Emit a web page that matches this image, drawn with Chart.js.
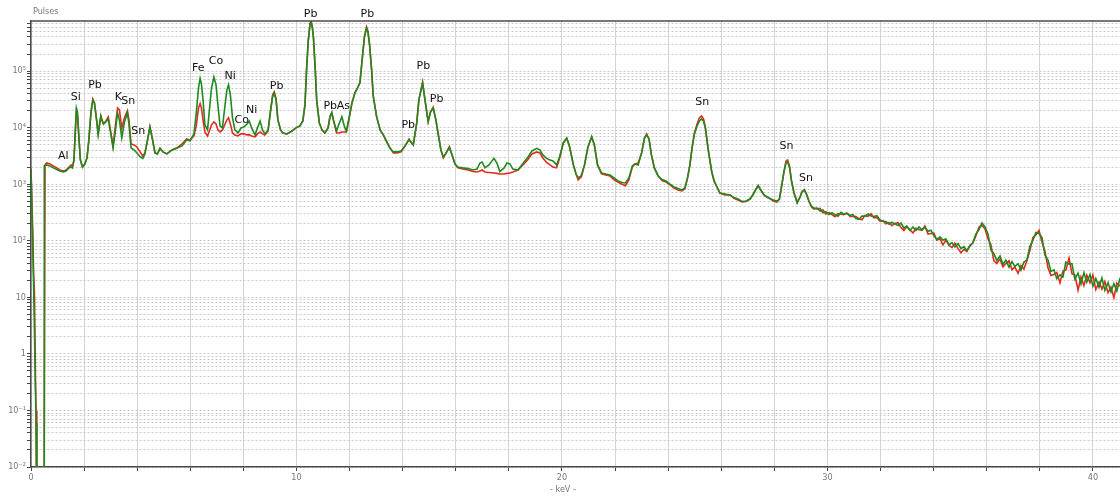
<!DOCTYPE html>
<html>
<head>
<meta charset="utf-8">
<script src="https://cdn.jsdelivr.net/npm/chart.js@4.4.0/dist/chart.umd.min.js"></script>
<style>
  html, body { margin: 0; padding: 0; background: #fff; }
</style>
</head>
<body>
<canvas id="spectrum" width="1120" height="497"></canvas>
<script>
// energy axis (keV), shared by both spectra
var keV = [
  0.00, 0.07, 0.10, 0.13, 0.17, 0.19, 0.22, 0.49, 0.50, 0.53,
  0.59, 0.72, 0.84, 0.97, 1.09, 1.22, 1.32, 1.43, 1.51, 1.56,
  1.62, 1.66, 1.71, 1.75, 1.81, 1.86, 1.94, 2.03, 2.11, 2.18,
  2.26, 2.33, 2.39, 2.47, 2.53, 2.63, 2.67, 2.73, 2.82, 2.91,
  2.99, 3.09, 3.16, 3.26, 3.33, 3.42, 3.52, 3.63, 3.69, 3.77,
  3.88, 3.99, 4.11, 4.21, 4.29, 4.39, 4.48, 4.58, 4.67, 4.76,
  4.86, 4.97, 5.12, 5.31, 5.50, 5.69, 5.86, 5.99, 6.14, 6.23,
  6.31, 6.37, 6.42, 6.48, 6.55, 6.65, 6.72, 6.80, 6.89, 6.97,
  7.04, 7.12, 7.21, 7.31, 7.38, 7.44, 7.51, 7.59, 7.68, 7.80,
  7.91, 8.02, 8.14, 8.22, 8.31, 8.44, 8.53, 8.63, 8.72, 8.81,
  8.93, 9.02, 9.10, 9.16, 9.23, 9.30, 9.40, 9.49, 9.64, 9.83,
  9.98, 10.13, 10.24, 10.32, 10.38, 10.44, 10.51, 10.55, 10.60, 10.64,
  10.70, 10.76, 10.86, 10.96, 11.07, 11.19, 11.26, 11.33, 11.39, 11.51,
  11.60, 11.71, 11.81, 11.88, 11.98, 12.09, 12.20, 12.30, 12.39, 12.48,
  12.56, 12.64, 12.69, 12.75, 12.83, 12.89, 13.02, 13.15, 13.27, 13.40,
  13.52, 13.65, 13.79, 13.94, 14.09, 14.24, 14.31, 14.40, 14.53, 14.61,
  14.75, 14.84, 14.96, 15.05, 15.15, 15.25, 15.35, 15.44, 15.53, 15.66,
  15.76, 15.86, 15.97, 16.08, 16.27, 16.46, 16.65, 16.80, 16.91, 16.99,
  17.10, 17.25, 17.44, 17.55, 17.66, 17.82, 17.93, 18.04, 18.15, 18.34,
  18.53, 18.72, 18.87, 19.05, 19.17, 19.28, 19.42, 19.55, 19.66, 19.80,
  19.92, 20.05, 20.18, 20.28, 20.43, 20.53, 20.61, 20.73, 20.85, 20.98,
  21.12, 21.22, 21.34, 21.49, 21.65, 21.81, 21.96, 22.11, 22.26, 22.39,
  22.52, 22.65, 22.75, 22.87, 23.00, 23.11, 23.19, 23.28, 23.37, 23.48,
  23.62, 23.77, 23.92, 24.07, 24.22, 24.37, 24.52, 24.63, 24.73, 24.82,
  24.90, 24.99, 25.09, 25.18, 25.26, 25.33, 25.40, 25.51, 25.64, 25.73,
  25.83, 25.95, 26.14, 26.33, 26.48, 26.63, 26.78, 26.93, 27.08, 27.19,
  27.29, 27.39, 27.49, 27.61, 27.72, 27.83, 27.96, 28.10, 28.19, 28.27,
  28.36, 28.44, 28.50, 28.57, 28.64, 28.74, 28.86, 28.97, 29.04, 29.13,
  29.21, 29.30, 29.40, 29.49,
  29.60, 29.72, 29.83, 29.94, 30.06, 30.17, 30.28, 30.40, 30.51, 30.62,
  30.73, 30.85, 30.96, 31.07, 31.19, 31.30, 31.41, 31.53, 31.64, 31.75,
  31.86, 31.98, 32.09, 32.20, 32.32, 32.43, 32.54, 32.66, 32.77, 32.88,
  32.99, 33.11, 33.22, 33.33, 33.45, 33.56, 33.67, 33.79, 33.90, 34.01,
  34.12, 34.24, 34.35, 34.46, 34.58, 34.69, 34.80, 34.92, 35.03, 35.14,
  35.25, 35.37, 35.48, 35.59, 35.71, 35.82, 35.93, 36.05, 36.16, 36.27,
  36.38, 36.50, 36.61, 36.72, 36.84, 36.95, 37.06, 37.18, 37.29, 37.40,
  37.51, 37.63, 37.74, 37.85, 37.97, 38.08, 38.19, 38.31, 38.42, 38.53,
  38.64, 38.76, 38.87, 38.98, 39.10, 39.21, 39.32, 39.44, 39.55, 39.66,
  39.77, 39.89, 40.00, 40.11, 40.23, 40.34, 40.45, 40.57, 40.68, 40.79,
  40.90, 41.02
];

// pulses, green spectrum (drawn on top)
var pulsesGreen = [
  1800, 68, 15, 2.6, 0.2, 0.06, 0.001, 0.001, 2100, 2150,
  2190, 2100, 1940, 1820, 1710, 1640, 1710, 1940, 2010, 1940,
  2680, 7430, 22300, 19000, 6060, 2680, 2010, 2280, 2910, 6060,
  19000, 30900, 27300, 13700, 7430, 16000, 13700, 11600, 12600, 14300,
  8700, 4370, 7430, 18200, 13700, 6570, 12600, 18200, 11600, 4370,
  4030, 3570, 3060, 2850, 3430, 6060, 10300, 6060, 3570, 3430,
  4300, 3720, 3430, 4030, 4370, 4750, 6060, 5820, 7740, 19000,
  50400, 74000, 59200, 30900, 11200, 9100, 20600, 50400, 78000, 57000,
  25200, 10700, 9890, 25200, 46500, 57000, 37900, 14900, 9100, 8050,
  9890, 10300, 11600, 13100, 9890, 7430, 9890, 13100, 9100, 7740,
  9100, 19000, 34900, 40300, 30900, 13700, 9100, 8050, 7740, 8700,
  9890, 10700, 13100, 25200, 105000, 329000, 670000, 743000, 581000, 385000,
  123000, 30900, 12100, 9100, 8050, 9890, 15500, 18200, 13700, 8700,
  11600, 15500, 10300, 8700, 14900, 27300, 41100, 50400, 61800, 170000,
  403000, 570000, 493000, 305000, 105000, 36300, 15500, 9100, 7430, 5580,
  4370, 3720, 3720, 3870, 4750, 6060, 5580, 4940, 12100, 30900,
  60800, 30900, 12800, 19000, 22000, 13700, 7130, 4030, 3030, 3720,
  4460, 3290, 2280, 2010, 1940, 1890, 1780, 1850, 2370, 2470,
  1940, 2190, 2860, 2370, 1670, 1940, 2370, 2280, 1850, 1780,
  2330, 3030, 3870, 4300, 4030, 3290, 2860, 2680, 2570, 2190,
  3150, 5360, 6570, 4750, 2190, 1510, 1290, 1420, 2190, 4550,
  6960, 4940, 2190, 1580, 1510, 1450, 1290, 1140, 1070, 1050,
  1290, 2100, 2280, 2190, 3570, 6570, 7430, 6300, 3290, 1940,
  1400, 1210, 1140, 1000, 892, 840, 789, 857, 1290, 2190,
  4370, 7740, 10700, 13100, 14300, 13100, 9890, 4030, 1670, 1140,
  910, 698, 670, 644, 580, 545, 494, 504, 545, 644,
  789, 930, 789, 644, 593, 560, 525, 504, 545, 892,
  1640, 2370, 2470, 2010, 1190, 698, 465, 593, 728, 789,
  670, 504, 410, 379,
  364, 372, 313, 326, 291, 313, 288, 272, 318, 296,
  305, 281, 290, 246, 239, 273, 272, 297, 273, 268,
  278, 232, 221, 218, 196, 212, 199, 186, 206, 168,
  182, 152, 175, 151, 175, 156, 173, 147, 154, 122,
  106, 117, 102, 108, 84.6, 92.5, 77.3, 89, 72.5, 78.5,
  67, 80.6, 93, 131, 158, 206, 178, 131, 68.4, 58.8,
  44.6, 53.6, 38.2, 45.5, 34.2, 42.8, 35, 39.2, 30.3, 42,
  45.5, 80.6, 101, 140, 134, 114, 55.8, 45.5, 28.5, 30.8,
  21.4, 25, 22.8, 42, 38.7, 39.5, 21, 26.8, 17.1, 27.3,
  18.6, 25.2, 15.8, 21.4, 15.1, 21.9, 13.2, 18.2, 12.4, 17.5,
  12.9, 21.9
];

// pulses, red spectrum (drawn underneath)
var pulsesRed = [
  1900, 120, 25, 12, 0.3, 0.1, 0.001, 0.001, 0.001, 2200,
  2370, 2280, 2100, 1940, 1780, 1710, 1780, 2010, 2190, 2010,
  2680, 7000, 19000, 16800, 6060, 2680, 2010, 2280, 2910, 6060,
  19000, 32000, 27300, 13700, 8050, 16000, 13700, 11600, 13100, 15500,
  9100, 4750, 9100, 22300, 20600, 9890, 14900, 19800, 13700, 5150,
  4940, 4550, 3720, 3150, 3570, 6060, 10300, 6060, 3570, 3430,
  4300, 3720, 3430, 4030, 4370, 5150, 6300, 6060, 7130, 11200,
  22300, 26700, 22300, 13700, 8390, 7130, 8700, 11200, 12600, 11600,
  9100, 8390, 9100, 11600, 13700, 14900, 11600, 8050, 7430, 7130,
  7740, 7740, 7430, 7430, 7130, 6840, 7740, 8390, 7740, 7430,
  8700, 19800, 37900, 42700, 32900, 13700, 9100, 8050, 7740, 8700,
  9890, 10700, 13100, 25200, 105000, 335000, 680000, 770000, 590000, 385000,
  123000, 30900, 12100, 9100, 8050, 9890, 15500, 18500, 13700, 8050,
  8050, 8390, 8390, 8390, 14300, 27300, 41100, 50400, 61800, 170000,
  410000, 600000, 510000, 305000, 105000, 36300, 15500, 9100, 7430, 5580,
  4370, 3570, 3570, 3720, 4750, 6300, 5580, 4940, 12100, 30900,
  64000, 30900, 12800, 19000, 23000, 13700, 7130, 4030, 2900, 3720,
  4600, 3290, 2280, 1940, 1850, 1780, 1670, 1640, 1710, 1780,
  1640, 1610, 1580, 1550, 1510, 1510, 1550, 1580, 1640, 1780,
  2190, 2730, 3430, 3720, 3570, 2910, 2420, 2190, 2010, 1940,
  3000, 5360, 6400, 4750, 2190, 1510, 1190, 1350, 2190, 4550,
  6800, 4940, 2190, 1520, 1450, 1400, 1190, 1090, 1000, 940,
  1190, 2010, 2280, 2370, 3570, 6570, 7700, 6300, 3290, 1940,
  1400, 1160, 1090, 968, 857, 789, 760, 830, 1290, 2190,
  4370, 8050, 11600, 14900, 16100, 14300, 10300, 4030, 1670, 1140,
  910, 698, 644, 644, 560, 525, 484, 494, 545, 644,
  789, 950, 789, 644, 593, 560, 504, 484, 545, 892,
  1640, 2570, 2680, 2100, 1190, 698, 484, 593, 728, 800,
  670, 504, 395, 364,
  379, 335, 349, 297, 315, 290, 266, 302, 294, 288,
  310, 269, 270, 267, 244, 235, 278, 270, 300, 254,
  259, 223, 227, 200, 210, 184, 202, 208, 171, 152,
  178, 156, 137, 166, 156, 153, 183, 131, 134, 136,
  102, 108, 84.6, 102, 83, 75.5, 91, 72.5, 61.5, 70.7,
  64.4, 84, 91, 121, 175, 186, 164, 107, 84, 44.2,
  39.5, 47.4, 34.5, 39.5, 44.6, 31, 34.2, 26.6, 36.4, 31.5,
  43.7, 68.4, 114, 126, 152, 94.8, 65.7, 32.9, 24.2, 25.2,
  27.3, 18, 29.1, 30.3, 49.4, 26.2, 24.7, 13.4, 22.8, 16.1,
  24.7, 18.2, 24.7, 13.7, 18.6, 14, 19, 12.1, 15.1, 9.9,
  17.8, 15.8
];

// element labels over the peaks
var peakNames = ["Al", "Si", "Pb", "K", "Sn", "Sn", "Fe", "Co", "Ni", "Co", "Ni",
  "Pb", "Pb", "Pb", "As", "Pb", "Pb", "Pb", "Pb", "Sn", "Sn", "Sn"];
var peakKeV = [1.22, 1.69, 2.41, 3.29, 3.66, 4.04, 6.30, 6.97, 7.50, 7.94, 8.31,
  9.25, 10.53, 11.27, 11.77, 12.67, 14.21, 14.78, 15.28, 25.28, 28.46, 29.19];
var peakPulses = [3070, 34500, 57000, 34500, 28800, 8490, 112000, 147000, 82200, 13300, 20600,
  54700, 1.03e6, 24200, 24200, 1.03e6, 11200, 120000, 32200, 27700, 4610, 1270];

// axis ticks
var xTicks = [0, 2, 4, 6, 8, 10, 12, 14, 16, 18, 20, 22, 24, 26, 28, 30, 32, 34, 36, 38, 40];
var xLabelled = [0, 10, 20, 30, 40];
var yLabels = ["10\u207B\u00B2", "10\u207B\u00B9", "1", "10", "10\u00B2", "10\u00B3", "10\u2074", "10\u2075"];
var yMin = 0.01, yMax = 767000;

var yTicks = [];
for (var e = -2; e <= 5; e++) {
  for (var k = 1; k <= 9; k++) {
    var v = k * Math.pow(10, e);
    if (v <= yMax) yTicks.push(v);
  }
}

var smallFont = { family: "'Liberation Sans Narrow', 'DejaVu Sans Condensed', 'Liberation Sans', sans-serif", size: 9 };

var textPlugin = {
  id: "spectrumText",
  afterDraw: function (chart) {
    var c = chart.ctx, area = chart.chartArea, xs = chart.scales.x, ys = chart.scales.y;
    c.save();
    // top frame line
    c.strokeStyle = "#4a4a4a";
    c.lineWidth = 1.5;
    c.beginPath();
    c.moveTo(area.left, area.top);
    c.lineTo(area.right, area.top);
    c.stroke();

    c.fillStyle = "#111";
    c.font = "11px 'DejaVu Sans', sans-serif";
    c.textAlign = "center";
    c.textBaseline = "middle";
    for (var i = 0; i < peakNames.length; i++) {
      c.fillText(peakNames[i], xs.getPixelForValue(peakKeV[i]), ys.getPixelForValue(peakPulses[i]));
    }

    c.fillStyle = "#777";
    c.font = "9px " + smallFont.family;
    c.textAlign = "left";
    c.fillText("Pulses", area.left + 2, area.top - 9);
    c.textAlign = "center";
    c.fillText("- keV -", xs.getPixelForValue(20) + 1, area.bottom + 23);
    c.restore();
  }
};

new Chart(document.getElementById("spectrum"), {
  type: "line",
  data: {
    datasets: [
      {
        label: "green",
        data: keV.map(function (x, i) { return { x: x, y: pulsesGreen[i] }; }),
        borderColor: "#1f8a1f",
        borderWidth: 1.6,
        pointRadius: 0,
        order: 0
      },
      {
        label: "red",
        data: keV.map(function (x, i) { return { x: x, y: pulsesRed[i] }; }),
        borderColor: "#e52a20",
        borderWidth: 1.6,
        pointRadius: 0,
        order: 1
      }
    ]
  },
  options: {
    responsive: false,
    animation: false,
    layout: { padding: { top: 21, right: 0, left: 0, bottom: 0 } },
    plugins: { legend: { display: false }, tooltip: { enabled: false } },
    scales: {
      x: {
        type: "linear",
        min: 0,
        max: 41.02,
        afterBuildTicks: function (s) { s.ticks = xTicks.map(function (v) { return { value: v }; }); },
        afterFit: function (s) { s.height = 30; },
        ticks: {
          autoSkip: false,
          maxRotation: 0,
          padding: 1,
          color: "#777",
          font: smallFont,
          callback: function (v) { return xLabelled.indexOf(v) >= 0 ? String(v) : ""; }
        },
        grid: { color: "#d4d4d4", lineWidth: 1, tickLength: 4, tickColor: "#444" },
        border: { color: "#4a4a4a", width: 1.5 }
      },
      y: {
        type: "logarithmic",
        min: yMin,
        max: yMax,
        afterBuildTicks: function (s) { s.ticks = yTicks.map(function (v) { return { value: v }; }); },
        afterFit: function (s) { s.width = 31; },
        ticks: {
          autoSkip: false,
          padding: 1,
          color: "#777",
          font: smallFont,
          callback: function (v) {
            var l = Math.log10(v), r = Math.round(l);
            return Math.abs(l - r) < 1e-6 ? yLabels[r + 2] : "";
          }
        },
        grid: { color: "#c9c9c9", lineWidth: 1, tickLength: 4, tickColor: "#444" },
        border: { color: "#4a4a4a", width: 1.5, dash: [2, 2] }
      }
    }
  },
  plugins: [textPlugin]
});
</script>
</body>
</html>
